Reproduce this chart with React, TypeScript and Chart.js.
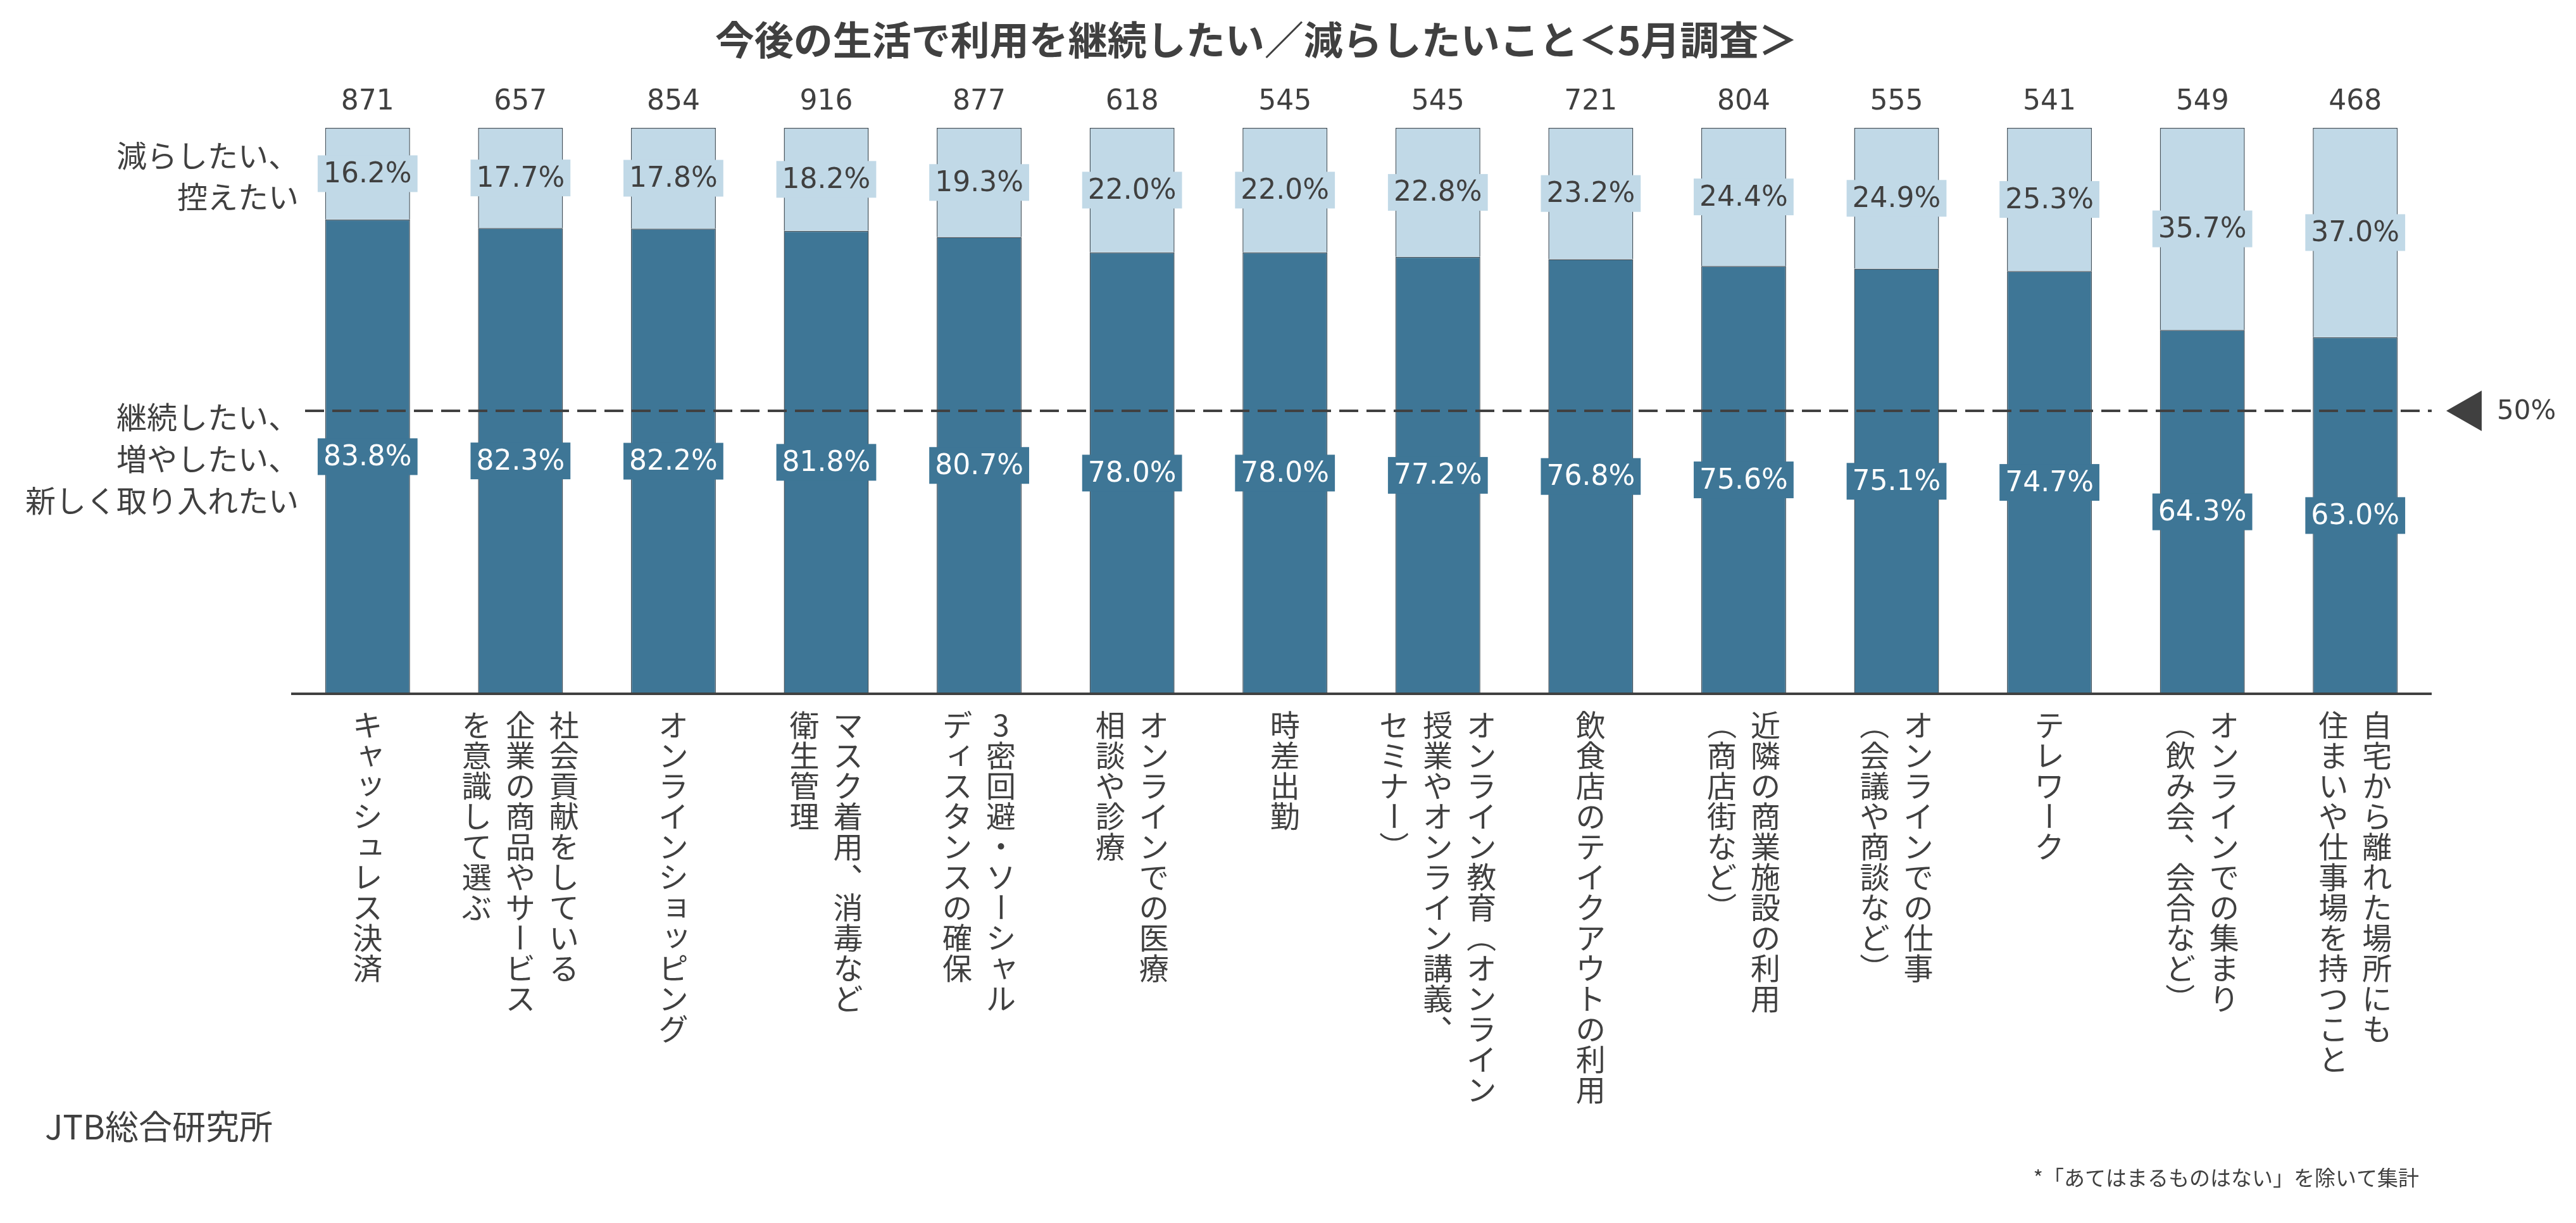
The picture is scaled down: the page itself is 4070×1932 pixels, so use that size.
import { useEffect, useRef } from 'react';
import { Chart, BarController, BarElement, CategoryScale, LinearScale } from 'chart.js';
import type { Plugin } from 'chart.js';

Chart.register(BarController, BarElement, CategoryScale, LinearScale);

const TITLE = '今後の生活で利用を継続したい／減らしたいこと＜5月調査＞';
const SOURCE = 'JTB総合研究所';
const FOOTNOTE = '*「あてはまるものはない」を除いて集計';

const categories = [
  'キャッシュレス決済',
  '社会貢献をしている\n企業の商品やサービス\nを意識して選ぶ',
  'オンラインショッピング',
  'マスク着用、消毒など\n衛生管理',
  '3密回避・ソーシャル\nディスタンスの確保',
  'オンラインでの医療\n相談や診療',
  '時差出勤',
  'オンライン教育（オンライン\n授業やオンライン講義、\nセミナー）',
  '飲食店のテイクアウトの利用',
  '近隣の商業施設の利用\n（商店街など）',
  'オンラインでの仕事\n（会議や商談など）',
  'テレワーク',
  'オンラインでの集まり\n（飲み会、会合など）',
  '自宅から離れた場所にも\n住まいや仕事場を持つこと',
];

const respondents = [871, 657, 854, 916, 877, 618, 545, 545, 721, 804, 555, 541, 549, 468];
const continueShare = [83.8, 82.3, 82.2, 81.8, 80.7, 78.0, 78.0, 77.2, 76.8, 75.6, 75.1, 74.7, 64.3, 63.0];
const reduceShare = [16.2, 17.7, 17.8, 18.2, 19.3, 22.0, 22.0, 22.8, 23.2, 24.4, 24.9, 25.3, 35.7, 37.0];

const reduceLabel = ['減らしたい、', '控えたい'];
const continueLabel = ['継続したい、', '増やしたい、', '新しく取り入れたい'];
const referenceLine = 50;

const DARK = '#3e7696';
const LIGHT = '#c1d9e7';
const TEXT = '#404040';
const JP = '"Noto Sans CJK JP", "Noto Sans", sans-serif';
const NUM = '"DejaVu Sans", "Noto Sans CJK JP", sans-serif';

// vertical writing helpers
const ROTATED = new Set(['ー', '（', '）', '－', '〜']);
const SMALL_KANA = new Set(['ャ', 'ュ', 'ョ', 'ッ', 'ィ', 'ァ', 'ゃ', 'ゅ', 'ょ', 'っ']);
const COMMAS = new Set(['、', '。']);

function drawVertical(ctx: CanvasRenderingContext2D, text: string, x: number, top: number, size: number, step: number) {
  [...text].forEach((ch, i) => {
    ctx.save();
    ctx.translate(x, top + step * i + step / 2);
    if (ROTATED.has(ch)) ctx.rotate(Math.PI / 2);
    else if (SMALL_KANA.has(ch)) ctx.translate(size * 0.1, -size * 0.1);
    else if (COMMAS.has(ch)) ctx.translate(size * 0.6, -size * 0.58);
    ctx.fillText(ch, 0, 0);
    ctx.restore();
  });
}

const overlay: Plugin<'bar'> = {
  id: 'overlay',
  afterDatasetsDraw(chart) {
    const { ctx, chartArea, scales } = chart;
    const y = scales.y;
    ctx.save();

    // axis line
    ctx.strokeStyle = TEXT;
    ctx.lineWidth = 4;
    ctx.beginPath();
    ctx.moveTo(chartArea.left, chartArea.bottom);
    ctx.lineTo(chartArea.right, chartArea.bottom);
    ctx.stroke();

    // 50% reference line
    const refY = y.getPixelForValue(referenceLine);
    ctx.setLineDash([30, 13]);
    ctx.lineWidth = 4;
    ctx.beginPath();
    ctx.moveTo(chartArea.left + 22, refY);
    ctx.lineTo(chartArea.right, refY);
    ctx.stroke();
    ctx.setLineDash([]);

    ctx.fillStyle = TEXT;
    ctx.beginPath();
    ctx.moveTo(chartArea.right + 23, refY);
    ctx.lineTo(chartArea.right + 79, refY - 32);
    ctx.lineTo(chartArea.right + 79, refY + 32);
    ctx.closePath();
    ctx.fill();
    ctx.font = `42px ${NUM}`;
    ctx.textAlign = 'left';
    ctx.textBaseline = 'middle';
    ctx.fillText(`${referenceLine}%`, chartArea.right + 103, refY + 2);

    // segment value labels
    ctx.font = `44px ${NUM}`;
    ctx.textAlign = 'center';
    const metas = [chart.getDatasetMeta(0), chart.getDatasetMeta(1)];
    const values = [continueShare, reduceShare];
    metas.forEach((meta, d) => {
      meta.data.forEach((bar, i) => {
        const { x, y: top, base } = bar.getProps(['x', 'y', 'base'], true) as any;
        const cy = (top + base) / 2;
        const label = `${values[d][i].toFixed(1)}%`;
        const w = ctx.measureText(label).width + 18;
        ctx.fillStyle = d === 0 ? DARK : LIGHT;
        ctx.fillRect(x - w / 2, cy - 29, w, 58);
        ctx.fillStyle = d === 0 ? '#ffffff' : TEXT;
        ctx.fillText(label, x, cy + 2);
      });
    });

    // respondent counts
    ctx.fillStyle = TEXT;
    ctx.font = `44px ${NUM}`;
    const topY = y.getPixelForValue(100);
    respondents.forEach((n, i) => {
      ctx.fillText(String(n), scales.x.getPixelForValue(i), topY - 40);
    });
    ctx.restore();
  },
  afterDraw(chart) {
    const { ctx, chartArea, scales, width } = chart;
    ctx.save();
    ctx.fillStyle = TEXT;

    // title
    ctx.font = `bold 62px ${JP}`;
    ctx.textAlign = 'center';
    ctx.textBaseline = 'middle';
    ctx.fillText(TITLE, 1985, 63);

    // vertical category labels
    ctx.font = `47px ${JP}`;
    categories.forEach((cat, i) => {
      const cx = scales.x.getPixelForValue(i);
      const lines = cat.split('\n');
      lines.forEach((line, j) => {
        const x = cx + ((lines.length - 1) / 2 - j) * 69;
        drawVertical(ctx, line, x, chartArea.bottom + 25, 47, 48);
      });
    });

    // left side labels
    ctx.font = `48px ${JP}`;
    ctx.textAlign = 'right';
    const leftX = chartArea.left + 12;
    const rc = scales.y.getPixelForValue(91.5);
    reduceLabel.forEach((line, j) => {
      ctx.fillText(line, leftX, rc + (j - (reduceLabel.length - 1) / 2) * 65);
    });
    const cc = scales.y.getPixelForValue(41.5);
    continueLabel.forEach((line, j) => {
      ctx.fillText(line, leftX, cc + (j - (continueLabel.length - 1) / 2) * 66);
    });

    // source and footnote
    ctx.textAlign = 'left';
    ctx.font = `53px ${JP}`;
    ctx.fillText(SOURCE, 71, 1780);
    ctx.textAlign = 'right';
    ctx.font = `33px ${JP}`;
    ctx.fillText(FOOTNOTE, width - 248, 1860);
    ctx.restore();
  },
};

export default function App() {
  const canvasRef = useRef<HTMLCanvasElement | null>(null);

  useEffect(() => {
    document.body.style.margin = '0';
    document.body.style.overflow = 'hidden';
    if (!canvasRef.current) return;

    const chart = new Chart(canvasRef.current, {
      type: 'bar',
      data: {
        labels: categories,
        datasets: [
          {
            data: continueShare,
            backgroundColor: DARK,
            borderColor: '#44525c',
            borderWidth: 1.5,
          },
          {
            data: reduceShare,
            backgroundColor: LIGHT,
            borderColor: '#44525c',
            borderWidth: 1.5,
          },
        ],
      },
      options: {
        responsive: false,
        animation: false,
        devicePixelRatio: 1,
        layout: { padding: { left: 460, right: 228, top: 202, bottom: 836 } },
        datasets: { bar: { categoryPercentage: 1, barPercentage: 0.555 } },
        scales: {
          x: { stacked: true, display: false },
          y: { stacked: true, display: false, min: 0, max: 100 },
        },
        plugins: {
          legend: { display: false },
          tooltip: { enabled: false },
        },
      },
      plugins: [overlay],
    });

    return () => {
      chart.destroy();
    };
  }, []);

  return (
    <div style={{ width: 4070, height: 1932, background: '#ffffff' }}>
      <canvas ref={canvasRef} width={4070} height={1932} />
    </div>
  );
}
